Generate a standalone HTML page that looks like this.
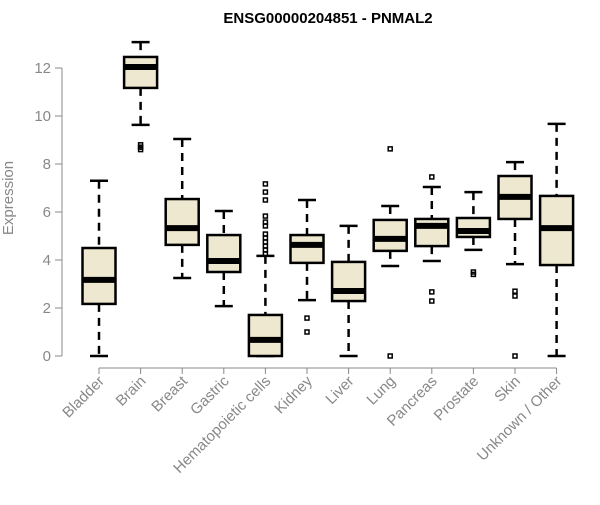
<!DOCTYPE html>
<html><head><meta charset="utf-8"><style>body{margin:0;background:#fff}svg{font-family:"Liberation Sans",sans-serif}</style></head>
<body>
<svg id="c" width="600" height="500">
<text x="328" y="23" text-anchor="middle" font-weight="bold" font-size="15">ENSG00000204851 - PNMAL2</text>
<text transform="translate(13,198) rotate(-90)" text-anchor="middle" fill="#888" font-size="15">Expression</text>
</svg>
<script>
const categories=["Bladder","Brain","Breast","Gastric","Hematopoietic cells","Kidney","Liver","Lung","Pancreas","Prostate","Skin","Unknown / Other"];
const whiskerLow=[0,9.63,3.25,2.08,0,2.33,0,3.75,3.96,4.42,3.83,0];
const q1=[2.17,11.17,4.63,3.5,0,3.88,2.29,4.38,4.58,4.96,5.71,3.79];
const medians=[3.17,12.04,5.33,3.96,0.67,4.63,2.71,4.88,5.42,5.21,6.63,5.33];
const q3=[4.5,12.46,6.54,5.04,1.71,5.04,3.92,5.67,5.71,5.75,7.5,6.67];
const whiskerHigh=[7.3,13.08,9.04,6.04,4.17,6.5,5.42,6.25,7.04,6.83,8.08,9.67];
const outliers=[[],[8.8,8.7,8.6],[],[],[7.17,6.83,6.5,5.83,5.58,5.42,5.08,4.92,4.75,4.58,4.42,4.25],[1.58,1.0],[],[8.63,0],[7.46,2.67,2.29],[3.5,3.4],[2.7,2.5,0],[]];
const yTicks=[0,2,4,6,8,10,12];
const svg=document.getElementById('c');const NS='http://www.w3.org/2000/svg';
const y=v=>356-v*24;const x=i=>99+i*41.6;
function mk(t,a){const e=document.createElementNS(NS,t);for(const k in a)e.setAttribute(k,a[k]);svg.appendChild(e);return e;}
let ax=mk('line',{x1:62,x2:62,y1:y(0),y2:y(12),stroke:'#888'});


yTicks.forEach(v=>{mk('line',{x1:55,x2:62,y1:y(v),y2:y(v),stroke:'#888'});
const t=mk('text',{x:51,y:y(v)+5,'text-anchor':'end',fill:'#888','font-size':15});t.textContent=v;

});
let xa=mk('line',{x1:x(0),x2:x(11),y1:368,y2:368,stroke:'#888'});


categories.forEach((c,i)=>{const cx=x(i);
mk('line',{x1:cx,x2:cx,y1:368,y2:374,stroke:'#888'});
const t=mk('text',{transform:`translate(${cx+6},${382}) rotate(-45)`,'text-anchor':'end',fill:'#888','font-size':15});t.textContent=c;


const g=document.createElementNS(NS,'g');svg.appendChild(g);


const add=(t,a)=>{const e=document.createElementNS(NS,t);for(const k in a)e.setAttribute(k,a[k]);g.appendChild(e);};
add('line',{x1:cx,x2:cx,y1:y(whiskerHigh[i]),y2:y(q3[i]),stroke:'#000','stroke-width':2.5,'stroke-dasharray':'8,6'});
add('line',{x1:cx,x2:cx,y1:y(q1[i]),y2:y(whiskerLow[i]),stroke:'#000','stroke-width':2.5,'stroke-dasharray':'8,6'});
add('line',{x1:cx-9,x2:cx+9,y1:y(whiskerHigh[i]),y2:y(whiskerHigh[i]),stroke:'#000','stroke-width':2.5});
add('line',{x1:cx-9,x2:cx+9,y1:y(whiskerLow[i]),y2:y(whiskerLow[i]),stroke:'#000','stroke-width':2.5});
add('rect',{x:cx-16.5,y:y(q3[i]),width:33,height:y(q1[i])-y(q3[i]),fill:'#ede8cf',stroke:'#000','stroke-width':2.5});
add('line',{x1:cx-16.5,x2:cx+16.5,y1:y(medians[i]),y2:y(medians[i]),stroke:'#000','stroke-width':6});
outliers[i].forEach(v=>add('rect',{x:cx-2,y:y(v)-2,width:4,height:4,fill:'none',stroke:'#000','stroke-width':1.5}));
});
</script>
</body></html>
